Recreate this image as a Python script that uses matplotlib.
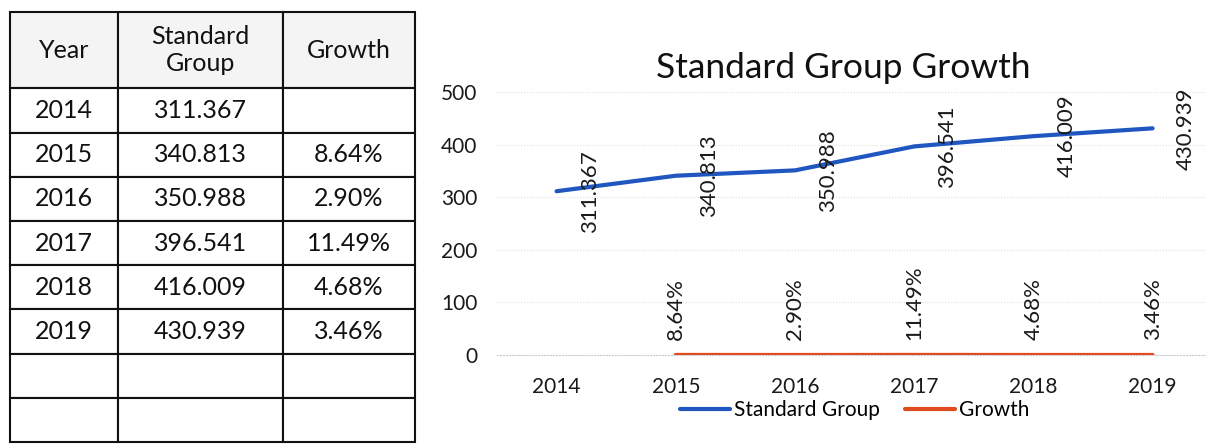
import matplotlib.pyplot as plt
import numpy as np

plt.rcParams['font.family'] = ['Lato', 'DejaVu Sans']

years = ['2014', '2015', '2016', '2017', '2018', '2019']
standard = [311.367, 340.813, 350.988, 396.541, 416.009, 430.939]
growth = [np.nan, 0.0864, 0.0290, 0.1149, 0.0468, 0.0346]
headers = ['Year', 'Standard\nGroup', 'Growth']

blue = '#1f56bf'
orange = '#e04a1c'

fig = plt.figure(figsize=(12.1, 4.44), dpi=100)

# ---- table on the left
ax_t = fig.add_axes([10 / 1210, 2 / 444, 405 / 1210, 430 / 444])
ax_t.axis('off')
rows = []
for y, s, g in zip(years, standard, growth):
    rows.append([y, '{:.3f}'.format(s), '' if np.isnan(g) else '{:.2f}%'.format(g * 100)])
rows.append(['', '', ''])
rows.append(['', '', ''])
tbl = ax_t.table(cellText=rows, colLabels=headers, cellLoc='center',
                 colWidths=[108, 165, 132], bbox=[0, 0, 1, 1])
tbl.auto_set_font_size(False)
tbl.set_fontsize(18)
for (r, c), cell in tbl.get_celld().items():
    cell.set_linewidth(1.5)
    cell.set_edgecolor('#111111')
    cell.set_height(76 if r == 0 else 44)
    cell.get_text().set_color('#111111')
    if r == 0:
        cell.set_facecolor('#f4f4f4')

# ---- line chart on the right
ax = fig.add_axes([497 / 1210, 1 - 355 / 444, 708 / 1210, (355 - 92) / 444])
x = np.arange(len(years))
ax.plot(x, standard, color=blue, lw=3, label='Standard Group', solid_capstyle='round')
ax.plot(x, growth, color=orange, lw=3, label='Growth', solid_capstyle='round')

for xi, v in zip(x, standard):
    ax.annotate('{:.3f}'.format(v), (xi, v), xytext=(24, 0), textcoords='offset points',
                rotation=90, ha='center', va='center', fontsize=16, color='#1a1a1a')
for xi, v in zip(x, growth):
    if np.isnan(v):
        continue
    ax.annotate('{:.2f}%'.format(v * 100), (xi, v), xytext=(0, 11), textcoords='offset points',
                rotation=90, ha='center', va='bottom', fontsize=16, color='#1a1a1a')

ax.set_ylim(0, 500)
ax.set_xlim(-0.5, 5.44)
ax.set_yticks(range(0, 501, 100))
ax.set_xticks(x)
ax.set_xticklabels(years)
ax.tick_params(axis='both', length=0, labelsize=15, colors='#1a1a1a')
ax.tick_params(axis='x', pad=16)
ax.tick_params(axis='y', pad=14)
ax.grid(axis='y', color='#dddddd', lw=0.8, ls=':')
for s in ['top', 'right', 'left']:
    ax.spines[s].set_visible(False)
ax.spines['bottom'].set_color('#cccccc')
ax.spines['bottom'].set_linestyle(':')

fig.text(843 / 1210, 1 - 68 / 444, 'Standard Group Growth', ha='center', va='center',
         fontsize=25.5, color='#111111')
fig.legend(loc='center', bbox_to_anchor=(855 / 1210, 1 - 410 / 444), ncol=2,
           frameon=False, fontsize=15, handlelength=2.4, columnspacing=1.2,
           handletextpad=0.2)

fig.savefig('out.png', dpi=100)
